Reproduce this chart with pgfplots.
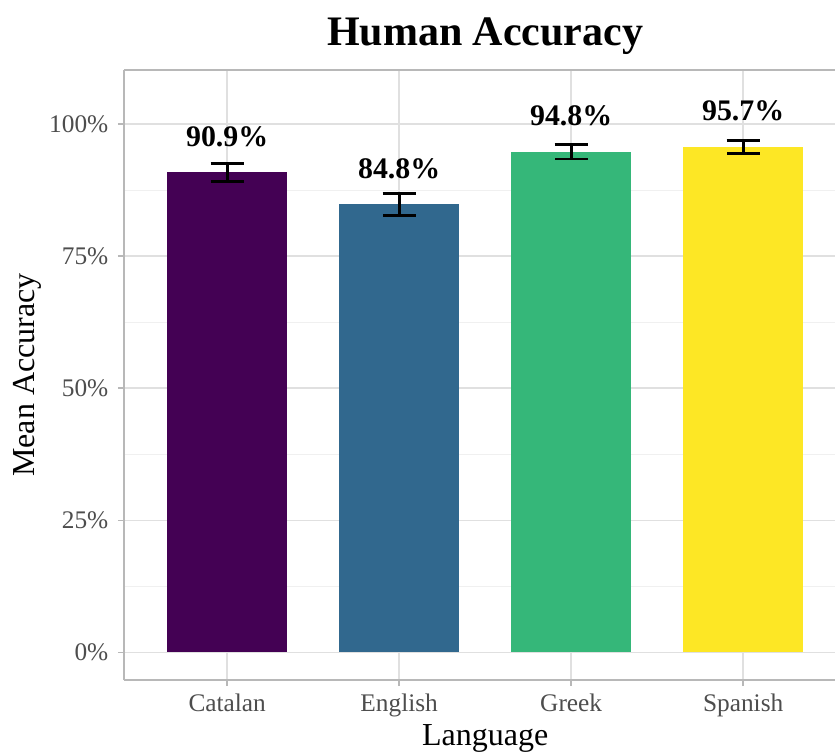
\documentclass[border=0pt]{standalone}
\usepackage{pgfplots}
\pgfplotsset{compat=1.18}
\usepackage{fontspec}
\setmainfont{Liberation Serif}
\definecolor{vir1}{HTML}{440154}
\definecolor{vir2}{HTML}{31688E}
\definecolor{vir3}{HTML}{35B779}
\definecolor{vir4}{HTML}{FDE725}
\definecolor{gridmaj}{HTML}{E0E0E0}
\definecolor{gridmin}{HTML}{F0F0F0}
\definecolor{border}{HTML}{B8B8B8}
\definecolor{ticklab}{HTML}{4D4D4D}
\pgfplotsset{
  every error bar/.style={draw=black, line width=2.2pt},
  errstyle/.style={error bars/.cd, y dir=both, y explicit,
  error bar style={draw=black, line width=2.2pt},
  error mark options={rotate=90, mark size=12.4pt, line width=2.2pt, draw=black}}}
\begin{document}
\begin{tikzpicture}
\begin{axis}[
  name=ax,
  scale only axis,
  width=533.25pt, height=457.5pt,
  xmin=0.4, xmax=4.534,
  ymin=-5.25, ymax=110.25,
  axis x line=box, axis y line=left,
  axis line style={draw=border, line width=1.2pt, -},
  every outer x axis line/.append style={-},
  every outer y axis line/.append style={-},
  xtick={1,2,3,4},
  xticklabels={Catalan,English,Greek,Spanish},
  ytick={0,25,50,75,100},
  yticklabels={0\%,25\%,50\%,75\%,100\%},
  minor ytick={12.5,37.5,62.5,87.5},
  minor tick length=0pt,
  tick align=outside,
  major tick length=4.5pt,
  tick style={draw=border, line width=1.1pt},
  xtick pos=bottom, ytick pos=left,
  xmajorgrids, ymajorgrids, yminorgrids,
  major grid style={draw=gridmaj, line width=1.1pt},
  minor grid style={draw=gridmin, line width=0.9pt},
  ticklabel style={font=\fontsize{19pt}{22pt}\selectfont, text=ticklab},
  xticklabel style={yshift=-2.5pt},
  yticklabel style={xshift=-3.75pt},
  xlabel={Language},
  ylabel={Mean Accuracy},
  label style={font=\fontsize{24pt}{28pt}\selectfont},
  xlabel style={at={(axis description cs:0.508,0)}, anchor=base, yshift=-48.75pt},
  ylabel style={at={(axis description cs:0,0.5)}, anchor=center, yshift=72.75pt},
  title={Human Accuracy},
  title style={font=\fontsize{31.5pt}{36pt}\selectfont\bfseries, at={(axis description cs:0.508,1)}, anchor=base, yshift=12pt},
  bar shift=0pt,
  bar width=0.7,
]
\addplot[ybar, fill=vir1, draw=none, errstyle]
  coordinates {(1,90.9) +- (0,1.7)};
\addplot[ybar, fill=vir2, draw=none, errstyle]
  coordinates {(2,84.8) +- (0,2.1)};
\addplot[ybar, fill=vir3, draw=none, errstyle]
  coordinates {(3,94.8) +- (0,1.4)};
\addplot[ybar, fill=vir4, draw=none, errstyle]
  coordinates {(4,95.7) +- (0,1.2)};
\addplot[draw=none, mark=none, nodes near coords, point meta=explicit symbolic,
  nodes near coords style={anchor=base, inner sep=0pt, text=black, font=\fontsize{22.4pt}{26pt}\selectfont\bfseries}]
  coordinates {(1,95.8) [90.9\%] (2,89.7) [84.8\%] (3,99.7) [94.8\%] (4,100.6) [95.7\%]};
\end{axis}
\pgfresetboundingbox
\path[use as bounding box] ([shift={(-93pt,-53.25pt)}]ax.south west) rectangle ([shift={(0pt,52.5pt)}]ax.north east);
\end{tikzpicture}
\end{document}
